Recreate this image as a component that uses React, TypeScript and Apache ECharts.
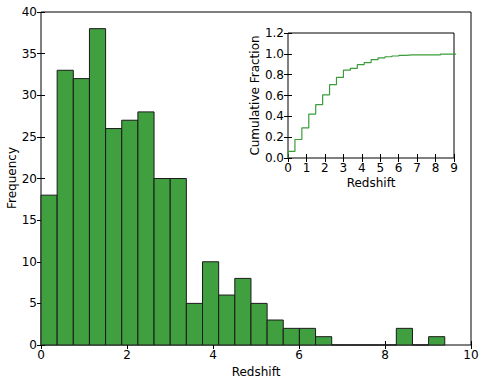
import React, { useEffect, useRef } from "react";
import * as echarts from "echarts";

// Histogram of redshifts: 25 equal bins starting at 0
const binStart = 0;
const binWidth = 0.3756;
const counts = [18, 33, 32, 38, 26, 27, 28, 20, 20, 5, 10, 6, 8, 5, 3, 2, 2, 1, 0, 0, 0, 0, 2, 0, 1];

const mainXTicks = { min: 0, max: 10, interval: 2 };
const mainYTicks = { min: 0, max: 40, interval: 5 };
const insetXTicks = { min: 0, max: 9, interval: 1 };
const insetYTicks = { min: 0, max: 1.2, interval: 0.2 };

const FONT = "DejaVu Sans";
const BAR_FILL = "#40a040";
const LINE_COLOR = "#3a9d3a";

export default function App() {
  const ref = useRef<HTMLDivElement>(null);

  useEffect(() => {
    if (!ref.current) return;
    const chart = echarts.init(ref.current, null, { renderer: "svg" });

    const edges = counts.map((_, i) => binStart + i * binWidth).concat([binStart + counts.length * binWidth]);
    const barData = counts.map((c, i) => [edges[i], edges[i + 1], c]);
    const total = counts.reduce((a, b) => a + b, 0);
    const stepPts: number[][] = [[edges[0], 0]];
    let cum = 0;
    counts.forEach((c, i) => {
      cum += c;
      const f = cum / total;
      stepPts.push([edges[i], stepPts[stepPts.length - 1][1]]);
      stepPts.push([edges[i], f]);
      stepPts.push([edges[i + 1], f]);
    });

    const tickStyle = { color: "#000", fontFamily: FONT, fontSize: 12 };
    const axisCommon = (extra: any) => ({
      axisLine: { show: false },
      splitLine: { show: false },
      axisTick: { show: true, inside: true, length: 4, lineStyle: { color: "#000", width: 1 } },
      axisLabel: { ...tickStyle, margin: 4 },
      nameTextStyle: { color: "#000", fontFamily: FONT, fontSize: 12 },
      ...extra,
    });

    chart.setOption({
      animation: false,
      textStyle: { fontFamily: FONT },
      grid: [
        { left: 41, right: 13, top: 12, bottom: 39, show: true, borderColor: "#000", borderWidth: 1, backgroundColor: "transparent", containLabel: false, outerBoundsMode: "none" },
        { left: 288, right: 30, top: 33, bottom: 226, show: true, borderColor: "#000", borderWidth: 1, backgroundColor: "#fff", containLabel: false, outerBoundsMode: "none" },
      ],
      graphic: [
        {
          type: "text",
          x: 12,
          y: 178,
          rotation: Math.PI / 2,
          style: { text: "Frequency", fill: "#000", font: `12px "${FONT}"`, align: "center", verticalAlign: "middle" },
        },
      ],
      xAxis: [
        axisCommon({ type: "value", gridIndex: 0, position: "bottom", ...mainXTicks, name: "Redshift", nameLocation: "middle", nameGap: 20 }),
        axisCommon({ type: "value", gridIndex: 0, position: "top", ...mainXTicks, axisLabel: { show: false } }),
        axisCommon({ type: "value", gridIndex: 1, position: "bottom", ...insetXTicks, name: "Redshift", nameLocation: "middle", nameGap: 19 }),
        axisCommon({ type: "value", gridIndex: 1, position: "top", ...insetXTicks, axisLabel: { show: false } }),
      ],
      yAxis: [
        axisCommon({ type: "value", gridIndex: 0, position: "left", ...mainYTicks }),
        axisCommon({ type: "value", gridIndex: 0, position: "right", ...mainYTicks, axisLabel: { show: false } }),
        axisCommon({
          type: "value", gridIndex: 1, position: "left", ...insetYTicks,
          name: "Cumulative Fraction", nameLocation: "middle", nameGap: 26,
          axisLabel: { ...tickStyle, margin: 4, formatter: (v: number) => v.toFixed(1) },
        }),
        axisCommon({ type: "value", gridIndex: 1, position: "right", ...insetYTicks, axisLabel: { show: false } }),
      ],
      series: [
        {
          type: "custom",
          xAxisIndex: 0,
          yAxisIndex: 0,
          data: barData,
          renderItem: (params: any, api: any) => {
            const s = api.coord([api.value(0), api.value(2)]);
            const e = api.coord([api.value(1), 0]);
            return {
              type: "rect",
              shape: { x: s[0], y: s[1], width: e[0] - s[0], height: e[1] - s[1] },
              style: { fill: BAR_FILL, stroke: "#1a1a1a", lineWidth: 1 },
            };
          },
          z: 1,
        },
        {
          type: "line",
          xAxisIndex: 2,
          yAxisIndex: 2,
          data: stepPts,
          showSymbol: false,
          symbol: "none",
          clip: true,
          lineStyle: { color: LINE_COLOR, width: 1.2 },
          z: 5,
        },
      ],
    });

    return () => chart.dispose();
  }, []);

  return <div ref={ref} style={{ position: "absolute", left: 0, top: 0, width: 484, height: 384 }} />;
}
